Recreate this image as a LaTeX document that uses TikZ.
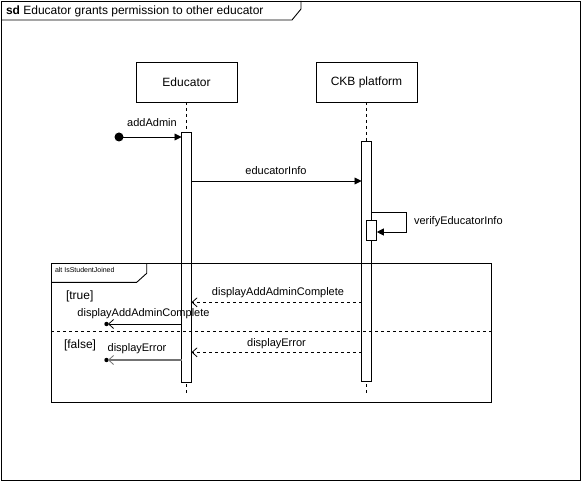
\documentclass[tikz,border=0pt]{standalone}
\usepackage{fontspec}
\setmainfont{Liberation Sans}
\usetikzlibrary{arrows.meta}
\begin{document}
\begin{tikzpicture}[x=1pt,y=-1pt,
  every node/.style={inner sep=0pt,outer sep=0pt},
  frame/.style={draw=black,line width=0.9pt},
  partbox/.style={draw=black,line width=0.9pt,fill=white,anchor=north west,font=\fontsize{12}{14}\selectfont},
  actbox/.style={draw=black,line width=0.9pt,fill=white,anchor=north west},
  lifeline/.style={draw=black,line width=0.8pt,dash pattern=on 3pt off 3pt},
  syncmsg/.style={draw=black,line width=0.9pt,-{Triangle[length=7pt,width=7pt]}},
  retmsg/.style={draw=black,line width=0.8pt,dash pattern=on 3pt off 3pt,-{Straight Barb[length=5pt,width=9pt,line width=0.8pt]}},
  lostmsg/.style={draw=black,line width=0.9pt,-{Straight Barb[length=5pt,width=9pt,line width=0.8pt]}},
  lbl/.style={font=\fontsize{11}{13}\selectfont},
  guard/.style={font=\fontsize{12}{14}\selectfont,anchor=west}
]
\useasboundingbox (0,0) rectangle (581,481);
\fill[white] (0,0) rectangle (581,481);
% outer frame
\draw[frame] (1,1) rectangle (580,480);
\draw[frame] (1,20) -- (292,20) -- (301,9) -- (301,1);
\node[anchor=west,font=\fontsize{12}{14}\selectfont] (title) at (6,11) {\textbf{sd} Educator grants permission to other educator};

% participants
\node[partbox,minimum width=101pt,minimum height=40pt] (edu) at (136,62) {Educator};
\node[partbox,minimum width=101pt,minimum height=40pt] (ckb) at (316,62) {CKB platform};

% lifeline ends
\coordinate (eduend) at (186.5,393);
\coordinate (ckbend) at (366.5,393);
\draw[lifeline] (edu.south) -- (eduend);
\draw[lifeline] (ckb.south) -- (ckbend);

% activations
\node[actbox,minimum width=10pt,minimum height=250pt] (act1) at (181.5,132) {};
\node[actbox,minimum width=10pt,minimum height=240pt] (act2) at (361.5,141) {};
\node[actbox,minimum width=10.5pt,minimum height=20pt] (act3) at (366.3,220) {};

% addAdmin (found message)
\node[circle,fill=black,minimum size=9pt] (start) at (119,137) {};
\draw[syncmsg] (start.center) -- (start.center -| act1.west);
\node[lbl] (l1) at (152,123) {addAdmin};

% educatorInfo
\draw[syncmsg] (act1.east |- 0,181) -- (act2.west |- 0,181);
\node[lbl] (l2) at (276,171) {educatorInfo};

% self call verifyEducatorInfo
\coordinate (selfa) at (406.7,212);
\coordinate (selfb) at (406.7,232);
\draw[syncmsg] (act2.east |- selfa) -- (selfa) -- (selfb) -- (act3.east |- selfb);
\node[lbl,anchor=west] (l3) at (414,222) {verifyEducatorInfo};

% alt fragment
\node[draw=black,line width=0.9pt,anchor=north west,minimum width=440pt,minimum height=139.5pt] (alt) at (51,263) {};
\draw[frame] (alt.north west |- 0,282.3) -- (136.7,282.3) -- (146.7,273.3) -- (146.7,263);
\node[anchor=west,font=\fontsize{7}{8}\selectfont] (altlbl) at (55,270) {alt IsStudentJoined};
\draw[lifeline,line width=0.9pt] (alt.west |- 0,331.7) -- (alt.east |- 0,331.7);
\node[guard] (g1) at (66,296.5) {[true]};
\node[guard] (g2) at (64,345.5) {[false]};

% displayAddAdminComplete return
\draw[retmsg] (act2.west |- 0,302.3) -- (act1.east |- 0,302.3);
\node[lbl] (l4) at (278,293) {displayAddAdminComplete};

% lost message 1
\coordinate (lost1) at (106.5,324);
\fill[black] (lost1) circle (2.2pt);
\draw[lostmsg] (act1.west |- lost1) -- ([xshift=1.5pt]lost1);
\node[lbl] (l5) at (143.5,314) {displayAddAdminComplete};

% displayError return
\draw[retmsg] (act2.west |- 0,352.3) -- (act1.east |- 0,352.3);
\node[lbl] (l6) at (276.5,343.5) {displayError};

% lost message 2
\coordinate (lost2) at (106.5,360);
\fill[black] (lost2) circle (2.2pt);
\draw[lostmsg,draw=black!55,line width=1.3pt] (act1.west |- lost2) -- ([xshift=1.5pt]lost2);
\node[lbl] (l7) at (137,349) {displayError};
\end{tikzpicture}
\end{document}
